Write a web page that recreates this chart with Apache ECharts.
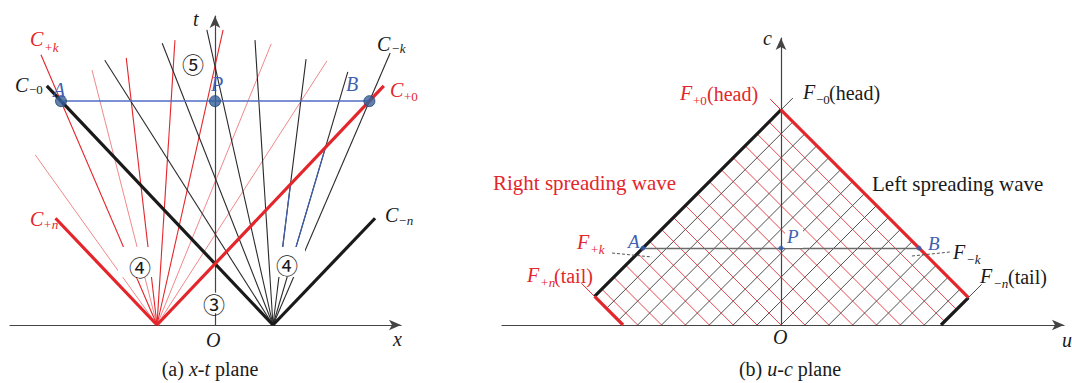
<!DOCTYPE html>
<html>
<head>
<meta charset="utf-8">
<script src="https://cdn.jsdelivr.net/npm/echarts@6/dist/echarts.min.js"></script>
<style>
  html, body { margin: 0; padding: 0; background: #fff; }
  #chart { width: 1072px; height: 383px; }
</style>
</head>
<body>
<div id="chart"></div>
<script>
// ---------------- (a) x–t plane ----------------
// x positions of the two centred fans on the x axis
const fanPlusX = -1;
const fanMinusX = 1;
// end points [x, t] of the C+ characteristics leaving the left fan
const cPlusBold = [[-2.75, 1.75], [2.91, 3.92]];                 // C+n, C+0
const cPlusThin = [[-3.0, 4.43], [-1.53, 4.38], [-0.69, 4.67], [0.14, 4.84]];
const cPlusPale = [[-3.10, 2.79], [-2.12, 4.18], [0.97, 4.61], [1.93, 4.33]];
// end points [x, t] of the C− characteristics leaving the right fan
const cMinusBold = [[-2.90, 3.92], [2.76, 1.75]];                // C−0, C−n
const cMinusThin = [[-1.90, 4.34], [-0.91, 4.62], [-0.14, 4.84], [0.69, 4.67],
                    [1.57, 4.36], [2.29, 4.15], [3.02, 4.46]];
const cMinusBlue = [[1.57, 4.36], [2.29, 4.15]];                 // stretch below C+0 drawn in blue
const blueFloorT = 1.28;
// points A, P, B on one time level
const xtPoints = [[-2.655, 3.67], [0, 3.67], [2.662, 3.67]];

// ---------------- (b) u–c plane ----------------
const headC = 9;          // F±0 head on the c axis
const tailPlus = -6.61;   // u + c on the F+n tail
const tailMinus = 6.70;   // u − c on the F−n tail
const redLevels = [8, 7, 6, 5, 4, 3, 2, 1, 0, -1, -2, -3, -4, -5, -6];     // u + c
const blackLevels = [-8, -7, -6, -5, -4, -3, -2, -1, 0, 1, 2, 3, 4, 5, 6]; // u − c
const ucPoints = [[-5.78, 3.22], [0, 3.22], [5.78, 3.22]];

// ---------------- colours & fonts ----------------
const RED = '#e3262b', BLK = '#1a1a1a', GREY = '#4d4d4d', BLUE = '#3f5fb0';
const AXIS = '#444';
const serif = '"Liberation Serif","Times New Roman",serif';

// ---------- geometry helpers ----------
const ray = (x0, e) => ({ coords: [[x0, 0], e] });
function onRay(x0, e, t) { return [x0 + (e[0] - x0) * t / e[1], t]; }

// blue stretches: from the crossing with C+0 down to the fan label gap
const cPlus0 = cPlusBold[1];
const sPlus0 = (cPlus0[0] - fanPlusX) / cPlus0[1];
const blueSegs = cMinusBlue.map(e => {
  const s = (e[0] - fanMinusX) / e[1];
  const tc = (fanMinusX - fanPlusX) / (sPlus0 - s);
  return { coords: [onRay(fanMinusX, e, blueFloorT), onRay(fanMinusX, e, tc)] };
});

// ---------- u–c mesh ----------
const Lc = [(tailPlus - headC) / 2, (tailPlus + headC) / 2];
const Rc = [(headC + tailMinus) / 2, (headC - tailMinus) / 2];
const redMesh = redLevels.map(k => ({
  coords: [[(k - headC) / 2, (k + headC) / 2],
           k <= tailMinus ? [k, 0] : [(k + tailMinus) / 2, (k - tailMinus) / 2]]
}));
const blackMesh = blackLevels.map(m => ({
  coords: [[(m + headC) / 2, (headC - m) / 2],
           m >= tailPlus ? [m, 0] : [(m + tailPlus) / 2, (tailPlus - m) / 2]]
}));

function segs(name, data, color, width, xi, z, opacity) {
  return {
    name, type: 'lines', coordinateSystem: 'cartesian2d', xAxisIndex: xi, yAxisIndex: xi,
    data, z: z || 2, silent: true, animation: false,
    lineStyle: { color, width, opacity: opacity == null ? 1 : opacity, curveness: 0, cap: 'butt' }
  };
}

// ---------- text helpers ----------
function txt(x, y, s, o) {
  o = o || {};
  return {
    type: 'text', x, y, z: 120,
    style: {
      text: s, fill: o.c || BLK, align: o.al || 'left', verticalAlign: 'middle',
      font: (o.it ? 'italic ' : '') + (o.fs || 20) + 'px ' + serif
    }
  };
}
function circled(x, y, s) {
  return [
    { type: 'circle', z: 110, shape: { cx: x, cy: y, r: 10.5 }, style: { fill: '#fff' } },
    { type: 'text', x, y, z: 120, style: { text: s, fill: BLK, align: 'center', verticalAlign: 'middle',
      font: '22px "Noto Sans CJK JP","DejaVu Sans",sans-serif' } }
  ];
}
function whiteBox(x, y, w, h) {
  return { type: 'rect', z: 105, shape: { x, y, width: w, height: h }, style: { fill: '#fff' } };
}
function caption(x, y, tag, it, rest) {
  return {
    type: 'text', x, y, z: 120,
    style: {
      text: '{n|' + tag + '}{i|' + it + '}{n|' + rest + '}', align: 'center', verticalAlign: 'middle',
      fill: BLK, font: '20px ' + serif,
      rich: { n: { font: '20px ' + serif, fill: BLK }, i: { font: 'italic 20px ' + serif, fill: BLK } }
    }
  };
}
function dashed(x1, y1, x2, y2) {
  return { type: 'line', z: 100, shape: { x1, y1, x2, y2 }, style: { stroke: '#555', lineWidth: 1, lineDash: [3, 2] } };
}

const graphics = [
  // fan label gaps
  whiteBox(118, 247, 38, 30), whiteBox(275, 247, 30, 30),
  ...circled(140, 266, '④'), ...circled(287, 264, '④'), ...circled(214, 303, '③'), ...circled(193, 63, '⑤'),
  // (a) labels
  txt(30, 39, 'C', { c: RED, it: 1 }), txt(44, 47, '+k', { c: RED, it: 1, fs: 13 }),
  txt(15, 85, 'C', { it: 1 }), txt(29, 89, '−0', { fs: 13 }),
  txt(390, 90, 'C', { c: RED, it: 1 }), txt(404, 96, '+0', { c: RED, fs: 13 }),
  txt(377, 44, 'C', { it: 1 }), txt(391, 48, '−k', { it: 1, fs: 13 }),
  txt(30, 219, 'C', { c: RED, it: 1 }), txt(43, 224, '+n', { c: RED, it: 1, fs: 13 }),
  txt(385, 215, 'C', { it: 1 }), txt(398, 220, '−n', { it: 1, fs: 13 }),
  txt(53, 90, 'A', { c: BLUE, it: 1 }), txt(211, 84, 'P', { c: BLUE, it: 1 }), txt(346, 84, 'B', { c: BLUE, it: 1 }),
  txt(193, 19, 't', { it: 1 }), txt(393, 339, 'x', { it: 1 }), txt(206, 340, 'O', { it: 1 }),
  caption(210, 369, '(a) ', 'x-t', ' plane'),
  // (b) labels
  txt(680, 93, 'F', { c: RED, it: 1 }), txt(693, 100, '+0', { c: RED, fs: 13 }), txt(707, 94, '(head)', { c: RED }),
  txt(803, 92, 'F', { it: 1 }), txt(816, 99, '−0', { fs: 13 }), txt(829, 93, '(head)'),
  txt(493, 183, 'Right spreading wave', { c: RED, fs: 21 }),
  txt(872, 184, 'Left spreading wave', { fs: 21 }),
  txt(577, 242, 'F', { c: RED, it: 1 }), txt(590, 249, '+k', { c: RED, it: 1, fs: 13 }),
  whiteBox(785, 227, 18, 21),
  txt(628, 241, 'A', { c: BLUE, it: 1, fs: 19 }), txt(787, 236, 'P', { c: BLUE, it: 1, fs: 19 }), txt(928, 243, 'B', { c: BLUE, it: 1, fs: 19 }),
  txt(953, 252, 'F', { it: 1 }), txt(966, 259, '−k', { it: 1, fs: 13 }),
  txt(527, 275, 'F', { c: RED, it: 1 }), txt(540, 282, '+n', { c: RED, it: 1, fs: 13 }), txt(554, 276, '(tail)', { c: RED }),
  txt(980, 276, 'F', { it: 1 }), txt(993, 283, '−n', { it: 1, fs: 13 }), txt(1008, 277, '(tail)'),
  txt(763, 38, 'c', { it: 1 }), txt(1062, 340, 'u', { it: 1 }), txt(773, 337, 'O', { it: 1 }),
  caption(790, 369, '(b) ', 'u-c', ' plane'),
  dashed(612, 253, 652, 257), dashed(912, 256, 950, 252)
];

const chart = echarts.init(document.getElementById('chart'), null, { renderer: 'svg' });
const axisStyle = (extra) => Object.assign({
  type: 'value',
  axisLine: { onZero: true, symbol: ['none', 'arrow'], symbolSize: [8, 12], lineStyle: { color: AXIS, width: 1.2 } },
  axisTick: { show: false }, axisLabel: { show: false }, splitLine: { show: false }
}, extra);

chart.setOption({
  animation: false,
  backgroundColor: '#fff',
  grid: [
    { left: 10, top: 16, width: 391, height: 309 },
    { left: 502, top: 38, width: 562, height: 287 }
  ],
  xAxis: [
    axisStyle({ gridIndex: 0, min: -3.534, max: 3.207 }),
    axisStyle({ gridIndex: 1, min: -11.68, max: 11.85 })
  ],
  yAxis: [
    axisStyle({ gridIndex: 0, min: 0, max: 5.066 }),
    axisStyle({ gridIndex: 1, min: 0, max: 12.01 })
  ],
  graphic: { elements: graphics },
  series: [
    // (a) fans
    segs('C+ pale', cPlusPale.map(e => ray(fanPlusX, e)), RED, 1, 0, 3, 0.55),
    segs('C+', cPlusThin.map(e => ray(fanPlusX, e)), RED, 1.1, 0, 3),
    segs('C−', cMinusThin.map(e => ray(fanMinusX, e)), '#2a2a2a', 1.1, 0, 3),
    segs('C− blue', blueSegs, BLUE, 1.2, 0, 4),
    segs('C− bold', cMinusBold.map(e => ray(fanMinusX, e)), BLK, 3.2, 0, 5),
    segs('C+ bold', cPlusBold.map(e => ray(fanPlusX, e)), RED, 3.2, 0, 6),
    segs('AB', [{ coords: [xtPoints[0], xtPoints[2]] }], '#4f6cc4', 1.5, 0, 7),
    {
      type: 'scatter', xAxisIndex: 0, yAxisIndex: 0, data: xtPoints, symbolSize: 11, z: 8, silent: true,
      itemStyle: { color: '#35609a', borderColor: '#24456e', borderWidth: 1 }
    },
    // (b) mesh
    segs('u+c mesh', redMesh, '#e6474b', 1, 1, 3),
    segs('u−c mesh', blackMesh, GREY, 1, 1, 3),
    segs('edges black', [{ coords: [[0, headC], Lc] }, { coords: [Rc, [tailMinus, 0]] }], BLK, 3.2, 1, 5),
    segs('edges red', [{ coords: [[0, headC], Rc] }, { coords: [Lc, [tailPlus, 0]] }], RED, 3.2, 1, 5),
    segs('leaders red', [{ coords: [[0, headC], [-0.45, headC + 0.45]] }, { coords: [Lc, [Lc[0] - 0.55, Lc[1] + 0.55]] }], RED, 1, 1, 5),
    segs('leaders black', [{ coords: [[0, headC], [0.5, headC + 0.5]] }, { coords: [Rc, [Rc[0] + 0.55, Rc[1] + 0.55]] }], GREY, 1, 1, 5),
    segs('AB level', [{ coords: [ucPoints[0], ucPoints[2]] }], '#6b6b6b', 1.3, 1, 6),
    {
      type: 'scatter', xAxisIndex: 1, yAxisIndex: 1, data: ucPoints, symbolSize: 5, z: 8, silent: true,
      itemStyle: { color: '#2f5bb0' }
    }
  ]
});
</script>
</body>
</html>
